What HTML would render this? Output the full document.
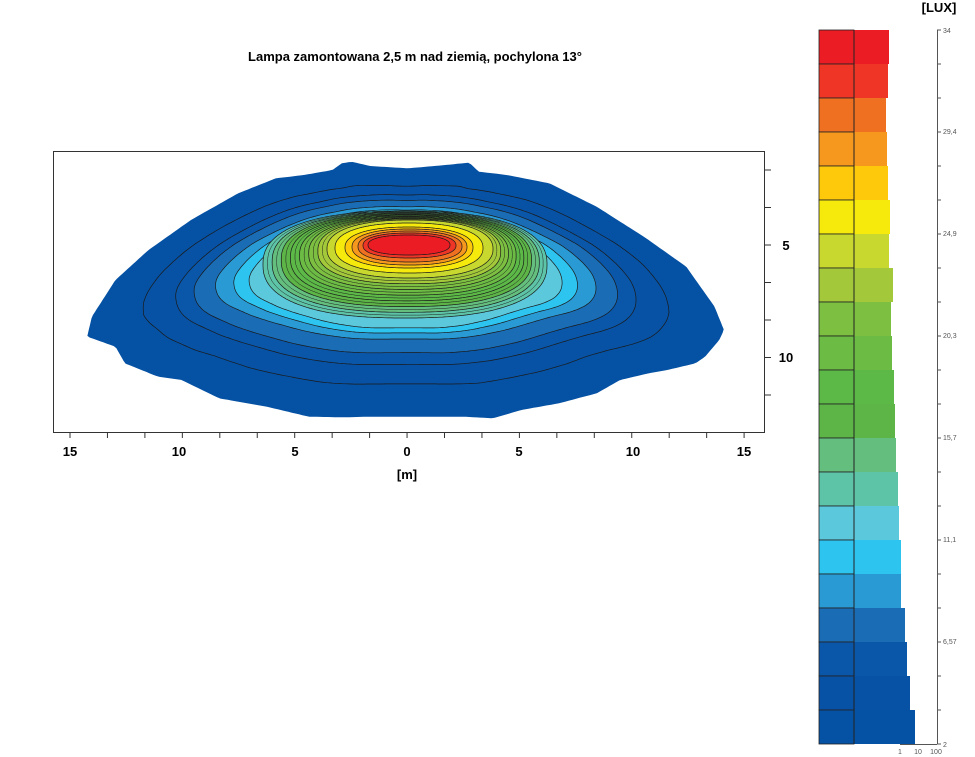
<!DOCTYPE html>
<html><head><meta charset="utf-8"><style>
html,body{margin:0;padding:0;background:#fff;}
svg{display:block;font-family:"Liberation Sans",sans-serif;}
</style></head><body>
<svg id="s" width="975" height="757" viewBox="0 0 975 757" xmlns="http://www.w3.org/2000/svg">
<text x="415" y="61" font-size="13" font-weight="bold" text-anchor="middle">Lampa zamontowana 2,5 m nad ziemią, pochylona 13°</text>
<g id="plot"></g>
<rect x="53.5" y="151.5" width="711" height="281" fill="none" stroke="#333" stroke-width="1"/>
<g font-size="13" font-weight="bold" text-anchor="middle">
<text x="70" y="456">15</text><text x="179" y="456">10</text><text x="295" y="456">5</text><text x="407" y="456">0</text><text x="519" y="456">5</text><text x="633" y="456">10</text><text x="744" y="456">15</text>
<text x="407" y="479">[m]</text>
<text x="786" y="250">5</text><text x="786" y="362">10</text>
<text x="939" y="12">[LUX]</text>
</g>
<g id="ticks" stroke="#333" stroke-width="1"></g>
<g id="leg"></g>
<g font-size="7" fill="#555">
<text x="943" y="33">34</text><text x="943" y="134">29,4</text><text x="943" y="236">24,9</text><text x="943" y="338">20,3</text><text x="943" y="440">15,7</text><text x="943" y="542">11,1</text><text x="943" y="644">6,57</text><text x="943" y="747">2</text>
<text x="900" y="754" text-anchor="middle">1</text><text x="918" y="754" text-anchor="middle">10</text><text x="936" y="754" text-anchor="middle">100</text>
</g>
</svg>
<script>
var NS="http://www.w3.org/2000/svg";
function el(p,t,a){var e=document.createElementNS(NS,t);for(var k in a)e.setAttribute(k,a[k]);p.appendChild(e);return e;}
var cols=["#ec1c24","#ee3526","#f07022","#f7981e","#fdc90a","#f5ea0c","#c8d82e","#a3c93a","#7dbf41","#6cbb44","#5cb847","#5db548","#64bf7f","#5ec4a8","#5cc8dc","#2ec4f0","#2a9ad4","#1a6cb4","#0a56a8","#0752a4","#0551a3"];
var rights=[889,888,886,887,888,890,889,893,891,892,894,895,896,898,899,901,901,905,907,910,915];
var leg=document.getElementById("leg");
for(var i=0;i<21;i++){var y=30+i*34;
el(leg,"rect",{x:819,y:y,width:35,height:34,fill:cols[i],stroke:"#222","stroke-width":0.8});
el(leg,"rect",{x:854,y:y,width:rights[i]-854,height:34,fill:cols[i]});}
el(leg,"line",{x1:854,y1:30,x2:854,y2:744,stroke:"#222","stroke-width":1});
var tk=document.getElementById("ticks");
el(tk,"line",{x1:937.5,y1:30,x2:937.5,y2:744,stroke:"#555"});
el(tk,"line",{x1:900,y1:744.5,x2:937,y2:744.5,stroke:"#555"});
for(var i=0;i<=21;i++){var y=30+i*34;el(tk,"line",{x1:937,y1:y,x2:941,y2:y,stroke:"#555"});}
for(var i=0;i<19;i++){var x=70+i*37.45;el(tk,"line",{x1:x,y1:432,x2:x,y2:438});}
for(var i=0;i<7;i++){var y=170+i*37.5;el(tk,"line",{x1:765,y1:y,x2:771,y2:y});}
var Z=[[640,70],[660,65],[700,78],[780,85],[860,75],[910,68],[930,95],[990,105],[1080,130],[1180,200],[1280,290],[1370,380],[1430,500],[1450,570],[1440,600],[1410,650],[1390,670],[1330,690],[1290,700],[1230,720],[1180,760],[1100,790],[1020,810],[960,835],[900,830],[860,830],[700,830],[640,832],[570,830],[480,800],[380,775],[300,720],[250,710],[180,670],[160,620],[100,590],[110,530],[160,420],[230,330],[320,240],[420,160],[500,115],[560,105],[620,90]];
var cx=405,cy=244;
var P=Z.map(function(p){return [40+p[0]/2.12,140+p[1]/3];});
var L=[0];for(var i=0;i<P.length;i++){var a=P[i],b=P[(i+1)%P.length];L.push(L[i]+Math.hypot(b[0]-a[0],b[1]-a[1]));}
var tot=L[P.length],N=400,Q=[],seg=0;
for(var i=0;i<N;i++){var s=i/N*tot;while(L[seg+1]<s)seg++;var a=P[seg],b=P[(seg+1)%P.length];var t=(s-L[seg])/(L[seg+1]-L[seg]);Q.push([a[0]+(b[0]-a[0])*t,a[1]+(b[1]-a[1])*t]);}
var S=[];for(var i=0;i<N;i++){var sx=0,sy=0,c=0;for(var j=-12;j<=12;j++){var q=Q[(i+j+N)%N];sx+=q[0];sy+=q[1];c++;}S.push([sx/c,sy/c]);}
function interp(tab,f){for(var i=0;i<tab.length-1;i++){var a=tab[i],b=tab[i+1];if(f>=a[0]&&f<=b[0])return a[1]+(b[1]-a[1])*(f-a[0])/(b[0]-a[0]);}return f<tab[0][0]?tab[0][1]:tab[tab.length-1][1];}
var TOP=[[0.11,0.11],[0.24,0.26],[0.45,0.36],[0.62,0.48],[0.85,0.75],[1,1]];
var BOT=[[0.11,0.06],[0.24,0.16],[0.45,0.45],[0.62,0.55],[0.85,0.81],[1,1]];
var fr=[1.0,0.85,0.75,0.69,0.62,0.56,0.51];
var EXT={7:[263,547,211,318],14:[327,493,220,278],15:[335,483,223,273],16:[345,473,227,268],17:[352,467,229,265],18:[358,462,231,262],19:[363,456,233,258],20:[368,450,235,255]};
for(var k=8;k<14;k++){var t=(k-7)/7;EXT[k]=EXT[7].map(function(v,i){return v+(EXT[14][i]-v)*t;});}
function boundaryPts(f){var sm=Math.min(1,(1-f)*5),ft=interp(TOP,f),fb=interp(BOT,f),out=[];
for(var i=0;i<N;i++){var p=[Q[i][0]*(1-sm)+S[i][0]*sm,Q[i][1]*(1-sm)+S[i][1]*sm];var dx=p[0]-cx,dy=p[1]-cy;out.push([cx+dx*f,cy+dy*(dy<0?ft:fb)]);}return out;}
function superPts(e,n){var mx=(e[0]+e[1])/2,a=(e[1]-e[0])/2,my=(e[2]+e[3])/2,out=[];
for(var i=0;i<N;i++){var th=i/N*2*Math.PI;
var c=Math.cos(th),s=Math.sin(th);var x=mx+a*Math.sign(c)*Math.pow(Math.abs(c),2/n);
var y=s<0?my-(my-e[2])*Math.pow(Math.abs(s),2/n):my+(e[3]-my)*Math.pow(Math.abs(s),2/n);
out.push([x,y]);}return out;}
function toD(pts){return pts.map(function(p,i){return (i?"L":"M")+p[0].toFixed(1)+","+p[1].toFixed(1);}).join("")+"Z";}
function pathK(k){
if(k<=6)return toD(boundaryPts(fr[k]));
return toD(superPts(EXT[k],k>=14?2.3:2.4));}
var plot=document.getElementById("plot");
for(var k=0;k<=20;k++){
el(plot,"path",{d:pathK(k),fill:cols[20-k],stroke:k==0?"none":"#1a1a1a","stroke-width":0.7});
}
for(var k=7;k<14;k++){var e1=EXT[k],e2=EXT[k+1];var m=e1.map(function(v,i){return (v+e2[i])/2;});
el(plot,"path",{d:toD(superPts(m,2.4)),fill:"none",stroke:"#1a1a1a","stroke-width":0.5});}
</script>
</body></html>
